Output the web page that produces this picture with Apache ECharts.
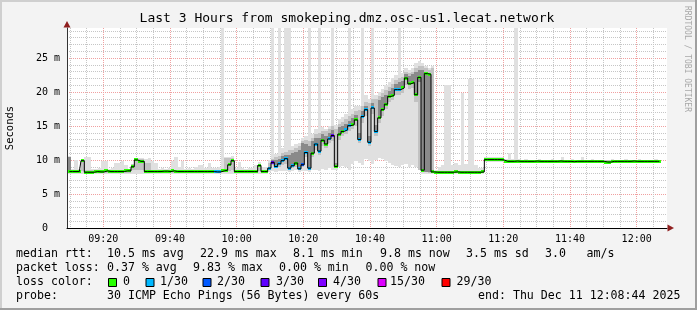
<!DOCTYPE html>
<html><head><meta charset="utf-8">
<script src="https://cdn.jsdelivr.net/npm/echarts@6/dist/echarts.min.js"></script>
<style>html,body{margin:0;padding:0;background:#f3f3f3;}#c{width:697px;height:310px;}</style>
</head><body><div id="c"></div><script>
// ---- data -------------------------------------------------------------
// x values are minutes after 09:00; one sample per minute, first at 09:09:48
const firstSample = 9.8;
const xMin = 9.1, xMax = 189.1;          // 3 hour window
const xMajor = [20, 40, 60, 80, 100, 120, 140, 160, 180];
const xMajorLabels = ['09:20','09:40','10:00','10:20','10:40','11:00','11:20','11:40','12:00'];
const xMinor = [10,15,25,30,35,45,50,55,65,70,75,85,90,95,105,110,115,125,130,135,145,150,155,165,170,175,185];
const yTicks = [0, 5, 10, 15, 20, 25];
const yTickLabels = ['0  ', '5 m', '10 m', '15 m', '20 m', '25 m'];

// median rtt (ms)
const median = [
 8.3,8.3,8.3,8.3,9.9,8.2,8.2,8.2,8.3,8.25,
 8.25,8.4,8.3,8.3,8.3,8.3,8.3,8.4,8.4,9.0,
 10.0,9.8,9.8,8.3,8.3,8.3,8.3,8.3,8.35,8.35,
 8.3,8.4,8.3,8.3,8.3,8.3,8.3,8.3,8.3,8.3,
 8.3,8.3,8.3,8.3,8.25,8.25,8.4,8.5,9.3,9.9,
 8.3,8.3,8.3,8.3,8.3,8.3,8.3,9.2,8.3,8.3,
 8.8,9.65,9.05,9.45,9.9,10.2,8.8,9.15,9.55,8.7,
 9.3,11.1,8.8,11.0,12.35,11.3,12.9,12.35,13.1,13.6,
 9.05,13.8,14.2,14.45,15.05,15.2,15.9,13.0,16.4,17.4,
 12.6,17.65,14.2,16.2,17.4,18.2,19.35,19.5,20.35,20.35,
 20.6,22.05,21.2,21.4,19.6,22.15,8.5,22.7,22.6,8.25,
 8.2,8.2,8.2,8.2,8.2,8.2,8.25,8.2,8.2,8.2,
 8.2,8.2,8.2,8.2,8.25,10.05,10.05,10.05,10.05,10.05,
 10.0,9.8,9.8,9.8,9.85,9.8,9.8,9.8,9.8,9.8,
 9.85,9.8,9.8,9.8,9.8,9.8,9.8,9.85,9.8,9.8,
 9.8,9.75,9.8,9.8,9.8,9.8,9.8,9.8,9.8,9.8,
 9.8,9.7,9.7,9.8,9.8,9.8,9.8,9.8,9.8,9.85,
 9.8,9.8,9.8,9.8,9.8,9.8,9.8,9.8
];
// lost pings (of 30) per sample
const lost = [
 0,0,0,0,0,0,0,0,0,0, 0,0,0,0,0,0,0,0,0,0, 0,0,0,0,0,0,0,0,0,0, 0,0,0,0,0,0,0,0,0,0,
 0,0,0,0,1,1,0,0,0,0, 0,0,0,0,0,0,0,0,0,0,
 1,3,1,1,1,1,1,1,0,1, 2,1,1,0,1,1,0,0,1,3, 0,0,0,1,1,0,0,1,1,1, 1,1,1,0,0,0,0,0,1,1,
 0,0,0,0,0,0,0,0,0,0, 0,0,0,0,0,0,0,0,0,0, 0,0,0,0,0,0,0,0,0,0, 0,0,0,0,0,0,0,0,0,0,
 0,0,0,0,0,0,0,0,0,0, 0,0,0,0,0,0,0,0,0,0, 0,0,0,0,0,0,0,0,0,0, 0,0,0,0,0,0,0,0
];
// smoke: full range of the 30 pings (light)
const smokeLo = [
 8.0,8.0,8.0,8.0,8.0,8.0,8.0,8.0,8.0,8.0, 8.0,8.0,8.0,8.0,8.0,8.0,8.0,8.0,8.0,8.0,
 8.0,8.0,8.0,8.0,8.0,8.0,8.0,8.0,8.0,8.0, 8.0,8.0,8.0,8.0,8.0,8.0,8.0,8.0,8.0,8.0,
 8.0,8.0,8.0,8.0,8.0,8.0,8.0,8.0,8.0,8.0, 8.0,8.0,8.0,8.0,8.0,8.0,8.0,8.0,8.0,8.0,
 8.3,8.4,8.3,8.4,8.4,8.4,8.3,8.4,8.5,8.3, 8.4,8.4,8.3,8.5,8.6,8.4,8.7,8.6,8.8,8.5,
 8.5,8.9,9.1,8.9,8.6,9.4,9.8,9.6,9.2,10.2, 9.8,9.4,10.0,10.3,10.1,9.8,9.6,9.3,9.1,8.9,
 9.2,9.4,9.0,9.3,8.9,9.0,8.0,8.0,8.0,8.0, 8.0,8.0,8.0,8.0,8.0,8.0,8.0,8.0,8.0,8.0,
 8.0,8.0,8.0,8.0,8.0,9.7,9.7,9.7,9.7,9.7, 9.7,9.6,9.6,9.6,9.6,9.6,9.6,9.6,9.6,9.6,
 9.6,9.6,9.6,9.6,9.6,9.6,9.6,9.6,9.6,9.6, 9.6,9.6,9.6,9.6,9.6,9.6,9.6,9.6,9.6,9.6,
 9.6,9.6,9.6,9.6,9.6,9.6,9.6,9.6,9.6,9.6, 9.6,9.6,9.6,9.6,9.6,9.6,9.6,9.6
];
const smokeHi = [
 10.6,8.7,10.0,8.7,10.1,10.4,10.4,8.7,8.7,8.8,
 9.9,9.9,8.7,8.8,9.5,9.5,9.8,9.2,8.7,9.3,
 10.3,10.3,10.3,10.2,10.3,9.8,9.6,8.7,8.8,8.7,
 8.8,9.8,10.5,9.0,9.8,8.7,8.8,8.7,9.0,9.2,
 9.2,8.8,9.5,8.8,8.8,9.0,40,10.4,10.4,10.6,
 8.8,9.7,8.8,8.7,8.8,8.8,9.3,9.7,8.9,8.9,
 10.0,40,10.9,40,11.8,40,40,12.0,12.3,12.5,
 13.2,13.5,40,13.8,14.5,40,14.8,14.5,15.0,40,
 15.2,16.0,16.3,16.8,40,17.5,18.0,18.0,40,19.5,
 19.0,40,19.5,20.0,20.5,21.0,21.5,22.0,22.5,40,
 22.8,23.5,23.2,23.5,24.3,24.6,24.3,23.8,23.5,23.8,
 8.6,9.0,9.2,21.1,21.1,9.3,9.5,9.3,19.8,9.4,
 21.9,21.9,9.2,8.8,8.8,10.4,10.4,10.5,10.4,10.4,
 10.4,10.2,11.0,10.1,40,10.1,10.0,10.1,10.0,10.0,
 10.0,10.1,10.0,10.0,10.0,10.1,10.0,10.0,10.4,10.0,
 10.0,10.1,10.0,10.0,10.4,10.0,10.0,10.1,10.0,10.0,
 10.0,10.0,10.0,10.1,10.0,10.0,10.0,10.1,10.0,10.0,
 10.0,10.1,10.0,10.0,10.0,10.0,10.1,10.0
];
// smoke: inner part of the ping distribution (medium grey)
const midLo = [
 8.1,8.1,8.1,8.1,8.4,8.1,8.1,8.1,8.1,8.1,
 8.1,8.1,8.1,8.1,8.1,8.1,8.1,8.1,8.1,8.6,
 8.5,8.5,8.5,8.2,8.2,8.1,8.1,8.1,8.1,8.1,
 8.1,8.1,8.1,8.1,8.1,8.1,8.1,8.1,8.1,8.1,
 8.1,8.1,8.1,8.1,8.1,8.1,8.2,8.4,8.4,8.5,
 8.1,8.1,8.1,8.1,8.1,8.1,8.1,8.4,8.1,8.1,
 8.5,9.2,8.8,9.0,9.2,9.4,8.6,8.8,9.0,8.6,
 9.0,10.5,8.6,10.5,11.5,10.8,12.0,11.8,12.5,12.8,
 8.8,13.0,13.5,13.8,14.2,14.5,15.0,12.5,15.5,16.5,
 12.0,16.8,13.5,15.5,16.5,17.5,18.5,18.8,19.5,19.6,
 19.8,21.0,20.5,20.6,18.5,8.5,8.2,8.2,8.1,8.1,
 8.1,8.1,8.1,8.1,8.1,8.1,8.1,8.1,8.1,8.1,
 8.1,8.1,8.1,8.1,8.1,9.8,9.8,9.8,9.8,9.8,
 9.8,9.6,9.6,9.6,9.6,9.6,9.6,9.6,9.6,9.6,
 9.6,9.6,9.6,9.6,9.6,9.6,9.6,9.6,9.6,9.6,
 9.6,9.6,9.6,9.6,9.6,9.6,9.6,9.6,9.6,9.6,
 9.6,9.6,9.6,9.6,9.6,9.6,9.6,9.6,9.6,9.6,
 9.6,9.6,9.6,9.6,9.6,9.6,9.6,9.6
];
const midHi = [
 8.5,8.5,8.6,8.5,10.0,8.6,8.6,8.5,8.5,8.5,
 8.6,8.6,8.5,8.5,8.5,8.5,8.5,8.6,8.6,9.4,
 10.1,10.1,10.1,9.5,9.5,8.6,8.5,8.5,8.5,8.5,
 8.5,8.6,8.6,8.5,8.5,8.5,8.5,8.5,8.5,8.5,
 8.5,8.5,8.5,8.5,8.5,8.5,8.6,10.3,10.3,10.3,
 8.5,8.5,8.5,8.5,8.5,8.5,8.5,9.4,8.5,8.5,
 9.6,10.2,10.5,10.6,11.0,11.2,11.4,11.5,11.8,12.0,
 12.8,13.0,12.8,13.3,13.8,14.0,14.3,14.2,14.6,15.0,
 14.5,15.3,15.6,16.0,16.5,16.8,17.2,17.3,18.0,18.6,
 18.4,19.0,19.0,19.4,19.8,20.3,20.8,21.2,21.8,22.0,
 22.2,23.0,22.8,23.0,23.5,23.8,23.8,23.5,23.2,23.5,
 8.4,8.4,8.4,8.4,8.4,8.4,8.4,8.4,8.4,8.4,
 8.4,8.4,8.4,8.4,8.4,10.3,10.3,10.3,10.3,10.3,
 10.3,10.0,10.0,10.0,10.0,10.0,10.0,10.0,10.0,10.0,
 10.0,10.0,10.0,10.0,10.0,10.0,10.0,10.0,10.0,10.0,
 10.0,10.0,10.0,10.0,10.0,10.0,10.0,10.0,10.0,10.0,
 10.0,10.0,10.0,10.0,10.0,10.0,10.0,10.0,10.0,10.0,
 10.0,10.0,10.0,10.0,10.0,10.0,10.0,10.0
];
// dense core of the smoke: [sample index, low, high]
const darkBands = [
 [0,8.1,10.5],
 [61,9.4,10.0],[62,9.0,10.0],[63,9.3,10.2],[64,9.7,10.6],[65,10.0,10.8],[66,8.8,10.8],[67,9.1,11.0],[68,9.5,11.2],[69,8.7,11.5],
 [70,9.3,12.5],[71,11.0,12.3],[72,8.8,12.0],[73,11.0,12.8],[74,12.3,13.3],[75,11.3,13.2],[76,12.8,13.8],[77,12.3,13.6],[78,13.0,14.0],[79,13.5,14.4],
 [80,9.0,9.6],[81,13.8,14.8],[82,14.2,15.0],[83,14.4,15.3],[84,15.0,15.8],[85,15.2,16.2],[86,15.9,16.6],[87,13.0,14.0],[88,16.4,17.2],[89,17.4,18.0],
 [90,12.6,13.6],[91,17.6,18.4],[92,14.2,15.2],[93,16.2,18.8],[94,17.4,19.2],[95,18.2,19.6],[96,19.3,20.2],[97,19.5,20.6],[98,20.3,21.2],[99,20.3,21.4],
 [100,20.6,21.6],[101,22.0,22.6],[102,21.2,22.3],[103,21.4,22.6],[104,19.6,23.0],[105,21.5,23.2],[106,8.3,23.2],[107,8.3,23.0],[108,8.2,22.8]
];
// loss colour legend
const lossLevels = [0, 1, 2, 3, 4, 15, 29];
const lossLabels = ['0', '1/30', '2/30', '3/30', '4/30', '15/30', '29/30'];
const lossColors = ['#26ff00', '#00b8ff', '#0059ff', '#5e00ff', '#7e00ff', '#dd00ff', '#ff0000'];
const lossLabelX = [123, 160, 217, 276, 333, 390, 456.5];
const lossBoxX = [108.5, 146, 203, 261, 318.5, 378, 442];
// statistics text
const statRow1 = [['median rtt:',16],['10.5 ms avg',107],['22.9 ms max',200],['8.1 ms min',293],['9.8 ms now',380],['3.5 ms sd',466],['3.0',545],['am/s',586.5]];
const statRow2 = [['packet loss:',16],['0.37 % avg',107],['9.83 % max',193],['0.00 % min',279],['0.00 % now',365.5]];
const statRow4 = [['probe:',16],['30 ICMP Echo Pings (56 Bytes) every 60s',107],['end: Thu Dec 11 12:08:44 2025',478]];
const titleText = 'Last 3 Hours from smokeping.dmz.osc-us1.lecat.network';

// ---- chart ------------------------------------------------------------
const times = median.map((_, i) => firstSample + i);
function lossColor(n) { let c = lossColors[0]; lossLevels.forEach((l, k) => { if (n >= l) c = lossColors[k]; }); return c; }
const MONO = '"DejaVu Sans Mono", "Liberation Mono", monospace';

function bandSeries(data, fill) {
  return {
    type: 'custom', xAxisIndex: 1, yAxisIndex: 1, silent: true, animation: false,
    data: data, encode: { x: 0, y: [1, 2] },
    renderItem(params, api) {
      const t = api.value(0), a = api.value(1), b = api.value(2);
      const p1 = api.coord([t - 0.5, b]), p2 = api.coord([t + 0.5, a]);
      const x1 = Math.round(p1[0]), x2 = Math.round(p2[0]);
      const y1 = Math.round(p1[1]), y2 = Math.round(p2[1]);
      const r = echarts.graphic.clipRectByRect({ x: x1, y: y1, width: x2 - x1, height: y2 - y1 }, params.coordSys);
      if (!r) return null;
      return { type: 'rect', shape: r, style: { fill: fill } };
    }
  };
}

const gridLine = (color) => ({ show: true, lineStyle: { color: color, width: 1, type: [1, 1] } });

const chart = echarts.init(document.getElementById('c'), null, { renderer: 'canvas' });
const graphics = [
  { type: 'rect', shape: { x: 0, y: 0, width: 697, height: 310 }, style: { fill: '#f3f3f3' }, z: -10 },
  { type: 'rect', shape: { x: 0, y: 0, width: 697, height: 2 }, style: { fill: '#cfcfcf' }, z: -9 },
  { type: 'rect', shape: { x: 0, y: 0, width: 2, height: 310 }, style: { fill: '#cfcfcf' }, z: -9 },
  { type: 'rect', shape: { x: 0, y: 308, width: 697, height: 2 }, style: { fill: '#9f9f9f' }, z: -9 },
  { type: 'rect', shape: { x: 695, y: 0, width: 2, height: 310 }, style: { fill: '#9f9f9f' }, z: -9 },
  { type: 'text', x: 347, y: 19, style: { text: titleText, font: '13px ' + MONO, fill: '#000', align: 'center', verticalAlign: 'middle' } },
  { type: 'text', x: 687, y: 59, rotation: -Math.PI / 2, style: { text: 'RRDTOOL / TOBI OETIKER', font: '8px ' + MONO, fill: '#a8a8a8', align: 'center', verticalAlign: 'middle' } },
  { type: 'text', x: 10, y: 128, rotation: Math.PI / 2, style: { text: 'Seconds', font: '10.5px ' + MONO, fill: '#000', align: 'center', verticalAlign: 'middle' } },
  { type: 'polygon', shape: { points: [[67, 21], [63.5, 27.5], [70.5, 27.5]] }, style: { fill: '#902020' }, z: 100 },
  { type: 'polygon', shape: { points: [[674, 228], [667.5, 224.5], [667.5, 231.5]] }, style: { fill: '#902020' }, z: 100 }
];
const legendFont = '11.6px ' + MONO;
[[statRow1, 254], [statRow2, 268], [statRow4, 296]].forEach(([row, y]) => {
  row.forEach(([t, x]) => graphics.push({ type: 'text', x: x, y: y, style: { text: t, font: legendFont, fill: '#000', align: 'left', verticalAlign: 'middle' } }));
});
graphics.push({ type: 'text', x: 16, y: 282, style: { text: 'loss color:', font: legendFont, fill: '#000', align: 'left', verticalAlign: 'middle' } });
lossLabels.forEach((l, k) => {
  graphics.push({ type: 'rect', shape: { x: lossBoxX[k], y: 278.5, width: 8, height: 8 }, style: { fill: lossColors[k], stroke: '#000', lineWidth: 1 } });
  graphics.push({ type: 'text', x: lossLabelX[k], y: 282, style: { text: l, font: legendFont, fill: '#000', align: 'left', verticalAlign: 'middle' } });
});

const option = {
  animation: false,
  backgroundColor: '#f3f3f3',
  grid: { left: 67, top: 28, width: 600, height: 200, show: true, backgroundColor: '#ffffff', borderWidth: 0, outerBoundsMode: 'none' },
  xAxis: [
    { type: 'value', min: xMin, max: xMax, position: 'bottom',
      axisLine: { show: false }, axisTick: { show: false, customValues: xMinor }, axisLabel: { show: false },
      splitLine: gridLine('#c6c6c6') },
    { type: 'value', min: xMin, max: xMax, position: 'bottom',
      axisLine: { show: true, lineStyle: { color: '#000', width: 1 } },
      axisTick: { show: false, customValues: xMajor },
      axisLabel: { customValues: xMajor, margin: 6, fontFamily: MONO, fontSize: 10, color: '#000',
        formatter: v => { const k = xMajor.indexOf(Math.round(v)); return k >= 0 ? xMajorLabels[k] : ''; } },
      splitLine: gridLine('#f0a0a0') }
  ],
  yAxis: [
    { type: 'value', min: 0, max: 29.41, interval: 1, position: 'left',
      axisLine: { show: false }, axisTick: { show: false }, axisLabel: { show: false },
      splitLine: Object.assign(gridLine('#c6c6c6'), { showMinLine: false, showMaxLine: false }) },
    { type: 'value', min: 0, max: 29.41, interval: 5, position: 'left',
      axisLine: { show: true, lineStyle: { color: '#333', width: 1 } }, axisTick: { show: false },
      axisLabel: { margin: 7, fontFamily: MONO, fontSize: 10, color: '#000', showMaxLabel: false,
        formatter: v => { const k = yTicks.indexOf(Math.round(v)); return (k >= 0 && Math.abs(v - yTicks[k]) < 1e-6) ? yTickLabels[k] : ''; } },
      splitLine: Object.assign(gridLine('#f0a0a0'), { showMinLine: false, showMaxLine: false }) }
  ],
  graphic: graphics,
  series: [
    bandSeries(times.map((t, i) => [t, smokeLo[i], smokeHi[i]]), '#e0e0e0'),
    bandSeries(times.map((t, i) => [t, midLo[i], midHi[i]]), '#c2c2c2'),
    bandSeries(darkBands.map(d => [times[d[0]], d[1], d[2]]), '#8a8a8a'),
    { type: 'line', xAxisIndex: 1, yAxisIndex: 1, step: 'middle', symbol: 'none', silent: true,
      data: times.map((t, i) => [t, median[i]]), lineStyle: { color: '#000', width: 1 } },
    { type: 'custom', xAxisIndex: 1, yAxisIndex: 1, silent: true,
      data: times.map((t, i) => [t, median[i], lost[i]]), encode: { x: 0, y: 1 },
      renderItem(params, api) {
        const t = api.value(0), v = api.value(1), n = api.value(2);
        const a = api.coord([t - 0.5, v]), b = api.coord([t + 0.5, v]);
        const x1 = Math.round(a[0]), x2 = Math.round(b[0]);
        return { type: 'rect', shape: { x: x1, y: Math.round(a[1] - 1.5), width: x2 - x1, height: 3 }, style: { fill: lossColor(n) } };
      } }
  ]
};
chart.setOption(option);
</script></body></html>
